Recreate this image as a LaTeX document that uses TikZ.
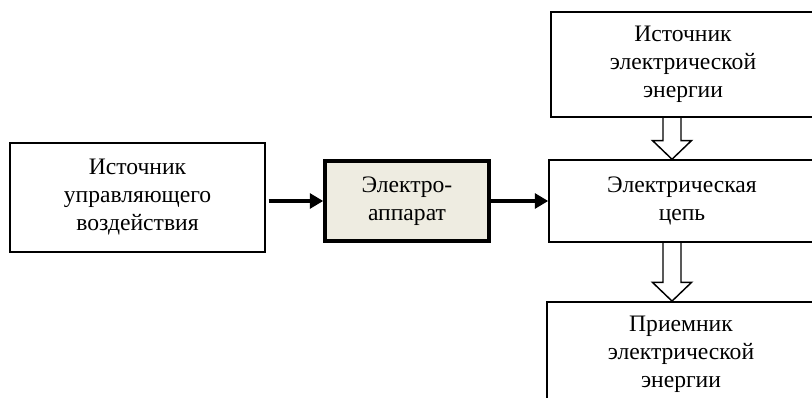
\documentclass[tikz,border=0pt]{standalone}
\usepackage{fontspec}
\setmainfont{Liberation Serif}
\usetikzlibrary{arrows.meta,calc}
\definecolor{beige}{RGB}{238,236,225}
\tikzset{
  block/.style={draw,line width=1.1pt,align=center,inner sep=0pt,font=\fontsize{17.7}{21}\selectfont},
  apparat/.style={block,line width=2.6pt,fill=beige},
  link/.style={line width=3pt,-{Triangle[length=10pt,width=11pt]}},
  power/.style={line width=1.1pt,to path={let \p1=(\tikztostart),\p2=(\tikztotarget) in
    (\x1-6.75pt,\y1) -- (\x1-6.75pt,\y2+14pt) -- (\x1-14.6pt,\y2+14pt) -- (\x1,\y2)
    -- (\x1+14.6pt,\y2+14pt) -- (\x1+6.75pt,\y2+14pt) -- (\x1+6.75pt,\y1)}}
}
\begin{document}
\begin{tikzpicture}[x=0.75pt,y=-0.75pt]
  \useasboundingbox (0,0) rectangle (812,398);
  \node[block,minimum width=191pt,minimum height=82pt] (src) at (137.5,197.5) {Источник\\управляющего\\воздействия};
  \node[apparat,minimum width=123pt,minimum height=60pt] (app) at (407,201) {Электро-\\аппарат};
  \node[block,minimum width=198pt,minimum height=79pt] (top) at (683,64.5) {Источник\\электрической\\энергии};
  \node[block,minimum width=199.5pt,minimum height=61.5pt] (circ) at (682,201) {Электрическая\\цепь};
  \node[block,minimum width=201pt,minimum height=79pt] (load) at (681,354.5) {Приемник\\электрической\\энергии};
  \draw[link] ($(src.east |- app.west)+(3,0)$) -- (app.west);
  \draw[link] (app.east) -- (circ.west);
  \draw[power] ([xshift=-8.25pt]top.south) to ([xshift=-8.25pt]circ.north);
  \draw[power] ([xshift=-7.5pt]circ.south) to ([xshift=-7.5pt]load.north);
\end{tikzpicture}
\end{document}
